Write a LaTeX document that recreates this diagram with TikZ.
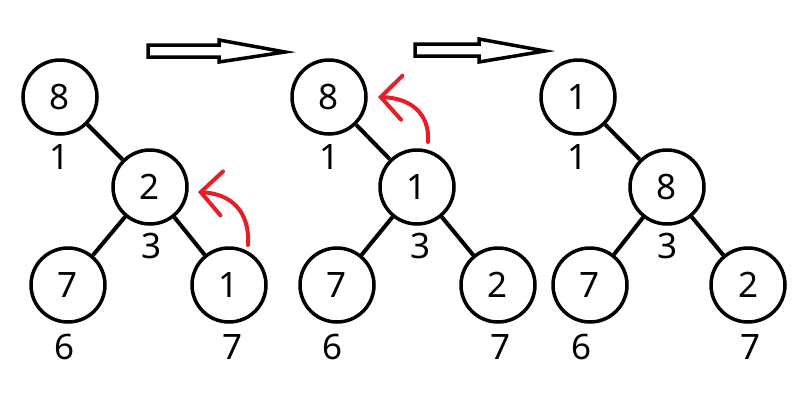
\documentclass[tikz,border=0pt]{standalone}
\usepackage{fontspec}
\setmainfont{Noto Sans}
\usetikzlibrary{arrows.meta}
\begin{document}
\begin{tikzpicture}[x=1pt,y=-1pt,
  hnode/.style={circle,draw=black,line width=3.5pt,minimum size=74pt,inner sep=0pt,font=\fontsize{35}{35}\selectfont},
  lbl/.style={inner sep=0pt,font=\fontsize{35}{35}\selectfont},
  edge/.style={line width=4pt,black},
  bigarrow/.style={draw=black,line width=3.5pt,line join=miter,fill=white},
  swap/.style={draw={rgb,255:red,230;green,30;blue,40},line width=4pt,line cap=round,
    -{Straight Barb[length=21pt,width=44pt,line width=4pt,line cap=round]}}]
\useasboundingbox[fill=white] (0,0) rectangle (800,400);
% big arrows
\draw[bigarrow] (148,45) -- (219,45) -- (219,40) -- (285,52) -- (219,62) -- (219,57) -- (148,57) -- cycle;
\draw[bigarrow] (415,44) -- (479,44) -- (479,39) -- (545,51) -- (479,62) -- (479,56) -- (415,56) -- cycle;
% tree 1
\node[hnode] (a8) at (60,97) {8};
\node[hnode] (a2) at (150,187) {2};
\node[hnode] (a7) at (68,285) {7};
\node[hnode] (a1) at (229,285) {1};
\draw[edge] (a8) -- (a2);
\draw[edge] (a2) -- (a7);
\draw[edge] (a2) -- (a1);
\node[lbl] (la1) at (60,157) {1};
\node[lbl] (la3) at (152,246) {3};
\node[lbl] (la6) at (65,347) {6};
\node[lbl] (la7) at (233,347) {7};
\coordinate (ra0) at (248,245);
\coordinate (ra1) at (198,192);
\draw[swap] (ra0) .. controls (250,212) and (232,194) .. (ra1);
% tree 2
\node[hnode] (b8) at (329,97) {8};
\node[hnode] (b1) at (417,187) {1};
\node[hnode] (b7) at (337,285) {7};
\node[hnode] (b2) at (498,285) {2};
\draw[edge] (b8) -- (b1);
\draw[edge] (b1) -- (b7);
\draw[edge] (b1) -- (b2);
\node[lbl] (lb1) at (330,157) {1};
\node[lbl] (lb3) at (421,246) {3};
\node[lbl] (lb6) at (333,347) {6};
\node[lbl] (lb7) at (501,347) {7};
\coordinate (rb0) at (428,142);
\coordinate (rb1) at (378,97);
\draw[swap] (rb0) .. controls (430,113) and (410,98) .. (rb1);
% tree 3
\node[hnode] (c1) at (578,97) {1};
\node[hnode] (c8) at (667,187) {8};
\node[hnode] (c7) at (590,285) {7};
\node[hnode] (c2) at (748,285) {2};
\draw[edge] (c1) -- (c8);
\draw[edge] (c8) -- (c7);
\draw[edge] (c8) -- (c2);
\node[lbl] (lc1) at (578,157) {1};
\node[lbl] (lc3) at (668,246) {3};
\node[lbl] (lc6) at (582,347) {6};
\node[lbl] (lc7) at (750,347) {7};
\end{tikzpicture}
\end{document}
